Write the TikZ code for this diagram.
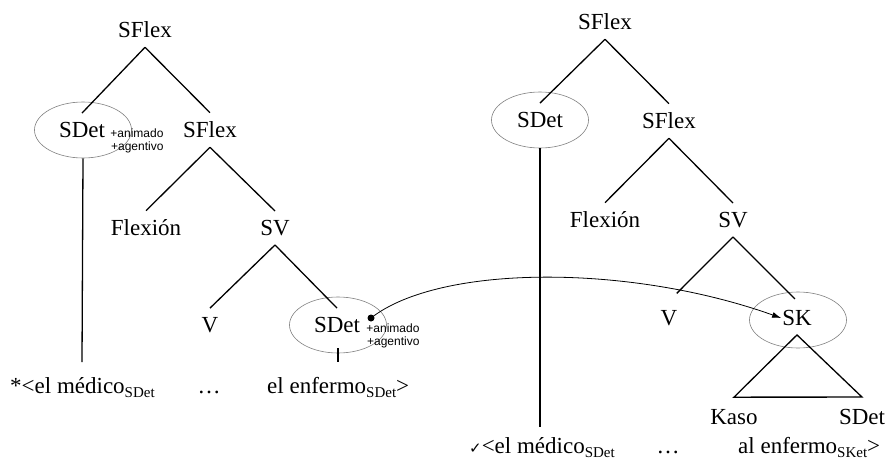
\documentclass[tikz,border=0pt]{standalone}
\usepackage{fontspec}
\setmainfont{Liberation Serif}
\setsansfont{Liberation Sans}
\newfontfamily\checkfont{DejaVu Sans}
\usetikzlibrary{shapes.geometric,arrows.meta}
\newcommand{\subcat}[1]{\raisebox{-4pt}{\fontsize{15}{15}\selectfont #1}}
\begin{document}
\begin{tikzpicture}[x=1pt,y=-1pt,
  cat/.style={font=\fontsize{23}{27}\selectfont, inner xsep=1pt, inner ysep=9pt},
  oval/.style={ellipse, draw=gray, line width=0.6pt, minimum width=97pt, minimum height=56pt, inner sep=0pt},
  feat/.style={font=\sffamily\fontsize{12}{13}\selectfont, align=right, inner sep=0pt},
  words/.style={font=\fontsize{23}{27}\selectfont, inner sep=0pt, anchor=base west},
  branch/.style={line width=1.3pt}]
\useasboundingbox (0,0) rectangle (887,463);
% left tree
\node[oval] (ov0) at (83,130){};
\node[oval] (ov1) at (338,325){};
\node[cat] (sflex0) at (145,30){SFlex};
\node[cat] (sdet0) at (82,130){SDet};
\node[cat] (sflex1) at (210,130){SFlex};
\node[cat] (flex0) at (146,228){Flexión};
\node[cat] (sv0) at (275,228){SV};
\node[cat] (v0) at (210,325){V};
\node[cat] (sdet1) at (337,325){SDet};
\node[feat] (feat0) at (137,141){+animado\\+agentivo};
\node[feat] (feat1) at (393,336){+animado\\+agentivo};
\node[circle, fill, inner sep=0pt, minimum size=7pt] (dot0) at (371,318){};
\coordinate (foot0) at (82,362);
\coordinate (tick0) at (338,348);
\coordinate (foot1) at (338,362);
\node[words] (medico0) at (10,393){*<el médico\subcat{SDet}};
\node[words, anchor=base] (dots0) at (209,393){\dots};
\node[words] (enfermo0) at (267,393){el enfermo\subcat{SDet}>};
\draw[branch](sflex0.south) -- (sdet0.north);
\draw[branch](sflex0.south) -- (sflex1.north);
\draw[branch](sflex1.south) -- (flex0.north);
\draw[branch](sflex1.south) -- (sv0.north);
\draw[branch](sv0.south) -- (v0.north);
\draw[branch](sv0.south) -- (sdet1.north);
\draw[branch](ov0.south) -- (foot0);
\draw[branch](tick0) -- (foot1);
% right tree
\node[oval] (ov2) at (540,120){};
\node[oval] (ov3) at (798,320){};
\node[cat] (sflex2) at (605,22){SFlex};
\node[cat] (sdet2) at (540,120){SDet};
\node[cat] (sflex3) at (669,121){SFlex};
\node[cat] (flex1) at (605,220){Flexión};
\node[cat] (sv1) at (733,220){SV};
\node[cat] (v1) at (669,318){V};
\node[cat] (sk0) at (797,318){SK};
\node[cat, inner ysep=12pt] (kaso0) at (734,417){Kaso};
\node[cat, inner ysep=12pt] (sdet3) at (862,417){SDet};
\coordinate (foot2) at (540,427);
\node[words] (medico1) at (469,453){{\checkfont\fontsize{15}{15}\selectfont ✓}<el médico\subcat{SDet}};
\node[words, anchor=base] (dots1) at (668,453){\dots};
\node[words] (enfermo1) at (738,453){al enfermo\subcat{SKet}>};
\draw[branch](sflex2.south) -- (sdet2.north);
\draw[branch](sflex2.south) -- (sflex3.north);
\draw[branch](sflex3.south) -- (flex1.north);
\draw[branch](sflex3.south) -- (sv1.north);
\draw[branch, shorten >=11pt](sv1.south) -- (v1.north);
\draw[branch, shorten >=3pt](sv1.south) -- (sk0.north);
\draw[branch](ov2.south) -- (foot2);
\draw[branch, line join=miter](sk0.south) -- (kaso0.north) -- (sdet3.north) -- cycle;
% movement
\draw[-{Latex[length=9pt,width=6pt]}, line width=0.8pt](dot0.center) .. controls (440,264) and (630,264) .. (sk0.west);
\end{tikzpicture}
\end{document}
